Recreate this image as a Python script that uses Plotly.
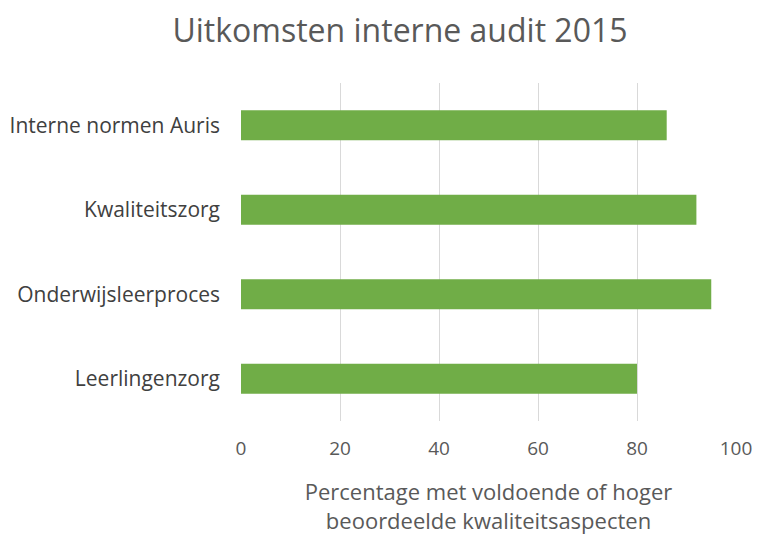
import plotly.graph_objects as go

categories = ["Leerlingenzorg", "Onderwijsleerproces", "Kwaliteitszorg", "Interne normen Auris"]
values = [80, 95, 92, 86]
tick_vals = [0, 20, 40, 60, 80, 100]

W, H = 772, 527  # page body has 8px margin

fig = go.Figure()
fig.add_trace(go.Bar(
    y=categories, x=values, orientation="h",
    marker=dict(color="#70ad47", line=dict(width=0)),
    width=0.355,
))

fig.update_layout(
    width=W, height=H,
    margin=dict(l=233, r=44, t=75, b=114),
    paper_bgcolor="white", plot_bgcolor="white",
    title=dict(text="Uitkomsten interne audit 2015", x=392 / W, xanchor="center",
               y=1 - 23 / H, yanchor="middle",
               font=dict(family="Open Sans", size=32, color="#595959")),
    font=dict(family="Open Sans", color="#595959"),
    showlegend=False,
)
fig.update_xaxes(
    range=[0, 100], tickvals=tick_vals, showgrid=True, gridcolor="#d9d9d9", gridwidth=1,
    zeroline=False, showline=False, tickfont=dict(size=19, color="#595959"),
    ticks="", ticklabelstandoff=14, automargin=False,
    title=dict(text="Percentage met voldoende of hoger<br>beoordeelde kwaliteitsaspecten",
               font=dict(size=22, color="#595959"), standoff=24),
)
fig.update_yaxes(
    showgrid=False, showline=False, zeroline=False, ticks="", automargin=False,
    tickfont=dict(size=21, color="#404040"), ticklabelstandoff=20,
)

fig.write_html("out.html")
